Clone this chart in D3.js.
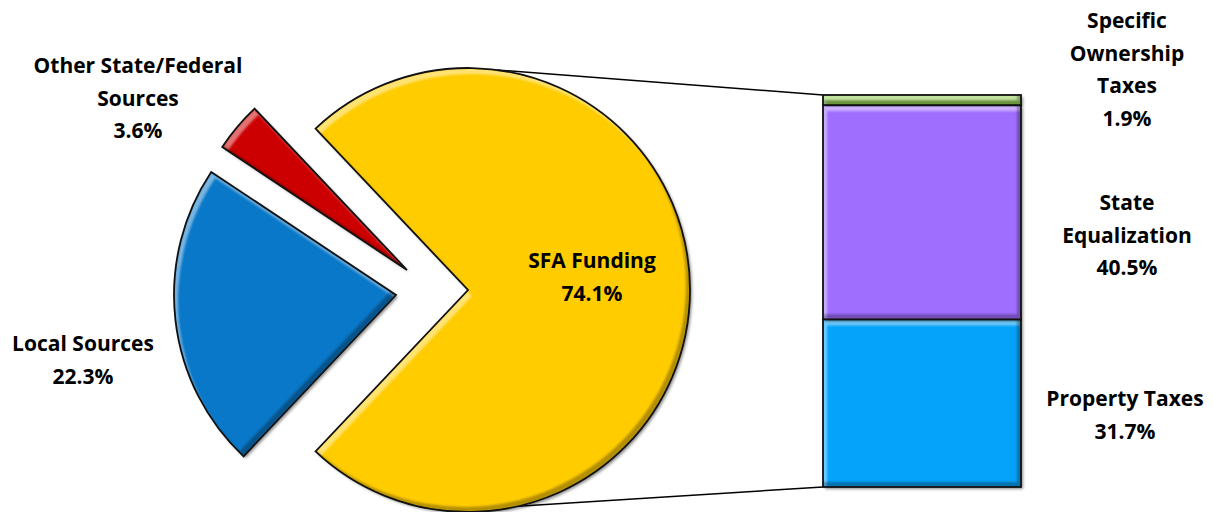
<!DOCTYPE html>
<html>
<head>
<meta charset="utf-8">
<script src="https://cdn.jsdelivr.net/npm/d3@7"></script>
<style>
  body { margin: 0; background: #fff; }
  svg { display: block; }
  .lbl { font-family: "Open Sans", Lato, sans-serif; font-weight: bold; font-size: 21px; fill: #000; }
</style>
</head>
<body>
<script>
// Pie slices (percent of total funding)
var pieLabels = ["SFA Funding", "Local Sources", "Other State/Federal\nSources"];
var pieValues = [74.1, 22.3, 3.6];
var pieColors = ["#ffcc00", "#0a78c8", "#cc0000"];

// Breakdown of the SFA slice shown in the bar (bottom to top)
var barLabels = ["Property Taxes", "State\nEqualization", "Specific\nOwnership\nTaxes"];
var barValues = [31.7, 40.5, 1.9];
var barColors = ["#05a3fa", "#a06eff", "#92d050"];

// Define width, height and layout
var w = 1221;
var h = 512;
var cx = 468, cy = 290, radius = 222;
var explode = [[0, 0], [-72, 5], [-61, -20]];
var barLeft = 823, barWidth = 198, barTop = 95, barBottom = 487;
var lineHeight = 32.5;

// label anchors: [center x, first baseline]
var pieLabelPos = [[592, 268], [83, 351], [138, 73]];
var barLabelPos = [[1125, 406], [1127, 210], [1127, 28]];

var svg = d3.select("body")
    .append("svg")
    .attr("width", w)
    .attr("height", h);

// Bevel + shadow filter to mimic the Excel look
var defs = svg.append("defs");
var f = defs.append("filter")
    .attr("id", "bevel")
    .attr("x", "-10%").attr("y", "-10%")
    .attr("width", "125%").attr("height", "125%")
    .attr("color-interpolation-filters", "sRGB");

f.append("feOffset").attr("in", "SourceAlpha").attr("dx", 2).attr("dy", 2).attr("result", "o");
f.append("feGaussianBlur").attr("in", "o").attr("stdDeviation", 1.5).attr("result", "ob");
f.append("feFlood").attr("flood-color", "#000").attr("flood-opacity", 0.45);
f.append("feComposite").attr("in2", "ob").attr("operator", "in").attr("result", "shadow");

f.append("feOffset").attr("in", "SourceAlpha").attr("dx", 4).attr("dy", 6).attr("result", "hiOff");
f.append("feComposite").attr("in", "SourceAlpha").attr("in2", "hiOff").attr("operator", "out").attr("result", "hiBand");
f.append("feGaussianBlur").attr("in", "hiBand").attr("stdDeviation", 1.2).attr("result", "hiBlur");
f.append("feComposite").attr("in", "hiBlur").attr("in2", "SourceAlpha").attr("operator", "in").attr("result", "hiClip");
f.append("feFlood").attr("flood-color", "#fff").attr("flood-opacity", 0.45);
f.append("feComposite").attr("in2", "hiClip").attr("operator", "in").attr("result", "hi");

f.append("feOffset").attr("in", "SourceAlpha").attr("dx", -4).attr("dy", -5).attr("result", "dkOff");
f.append("feComposite").attr("in", "SourceAlpha").attr("in2", "dkOff").attr("operator", "out").attr("result", "dkBand");
f.append("feGaussianBlur").attr("in", "dkBand").attr("stdDeviation", 1.2).attr("result", "dkBlur");
f.append("feComposite").attr("in", "dkBlur").attr("in2", "SourceAlpha").attr("operator", "in").attr("result", "dkClip");
f.append("feFlood").attr("flood-color", "#000").attr("flood-opacity", 0.3);
f.append("feComposite").attr("in2", "dkClip").attr("operator", "in").attr("result", "dk");

var merge = f.append("feMerge");
["shadow", "SourceGraphic", "hi", "dk"].forEach(function(n) {
  merge.append("feMergeNode").attr("in", n);
});

// Pie layout: first slice centred on the right side, others clockwise
var total = d3.sum(pieValues);
var start = Math.PI / 2 - (pieValues[0] / total) * Math.PI;
var pie = d3.pie()
    .sort(null)
    .startAngle(start)
    .endAngle(start + 2 * Math.PI);
var arcs = pie(pieValues);
var arc = d3.arc().innerRadius(0).outerRadius(radius);

// Bar scale
var yScale = d3.scaleLinear()
    .domain([0, d3.sum(barValues)])
    .range([barBottom, barTop]);

// Connector lines from pie to bar (drawn first, behind the pie)
var topAngle = 7.5 * Math.PI / 180;
var botAngle = 167 * Math.PI / 180;
var connectors = [
  [[cx + radius * Math.sin(topAngle), cy - radius * Math.cos(topAngle)], [barLeft, yScale(d3.sum(barValues))]],
  [[cx + radius * Math.sin(botAngle), cy - radius * Math.cos(botAngle)], [barLeft, yScale(0)]]
];
svg.selectAll(".connector")
    .data(connectors)
    .enter().append("path")
    .attr("class", "connector")
    .attr("d", function(d) { return d3.line()(d); })
    .attr("fill", "none")
    .attr("stroke", "#000")
    .attr("stroke-width", 1.5);

// Pie slices
var slices = svg.selectAll(".slice")
    .data(arcs)
    .enter().append("g")
    .attr("class", "slice")
    .attr("transform", function(d, i) {
      return "translate(" + (cx + explode[i][0]) + "," + (cy + explode[i][1]) + ")";
    });

slices.append("path")
    .attr("d", arc)
    .attr("fill", function(d, i) { return pieColors[i]; })
    .attr("filter", "url(#bevel)");

slices.append("path")
    .attr("d", arc)
    .attr("fill", "none")
    .attr("stroke", "#111")
    .attr("stroke-width", 1.8)
    .attr("stroke-linejoin", "miter");

// Bar segments
var stacked = [];
var acc = 0;
barValues.forEach(function(v, i) {
  stacked.push({ y0: acc, y1: acc + v, i: i });
  acc += v;
});

var seg = svg.selectAll(".seg")
    .data(stacked)
    .enter().append("g")
    .attr("class", "seg");

seg.append("rect")
    .attr("x", barLeft)
    .attr("y", function(d) { return yScale(d.y1); })
    .attr("width", barWidth)
    .attr("height", function(d) { return yScale(d.y0) - yScale(d.y1); })
    .attr("fill", function(d) { return barColors[d.i]; })
    .attr("filter", "url(#bevel)");

seg.append("rect")
    .attr("x", barLeft)
    .attr("y", function(d) { return yScale(d.y1); })
    .attr("width", barWidth)
    .attr("height", function(d) { return yScale(d.y0) - yScale(d.y1); })
    .attr("fill", "none")
    .attr("stroke", "#111")
    .attr("stroke-width", 1.8);

// Labels
function addLabel(text, value, pos) {
  var lines = text.split("\n").concat([value.toFixed(1) + "%"]);
  var t = svg.append("text")
      .attr("class", "lbl")
      .attr("text-anchor", "middle");
  lines.forEach(function(l, k) {
    t.append("tspan")
        .attr("x", pos[0])
        .attr("y", pos[1] + k * lineHeight)
        .text(l);
  });
}

pieLabels.forEach(function(l, i) { addLabel(l, pieValues[i], pieLabelPos[i]); });
barLabels.forEach(function(l, i) { addLabel(l, barValues[i], barLabelPos[i]); });
</script>
</body>
</html>
